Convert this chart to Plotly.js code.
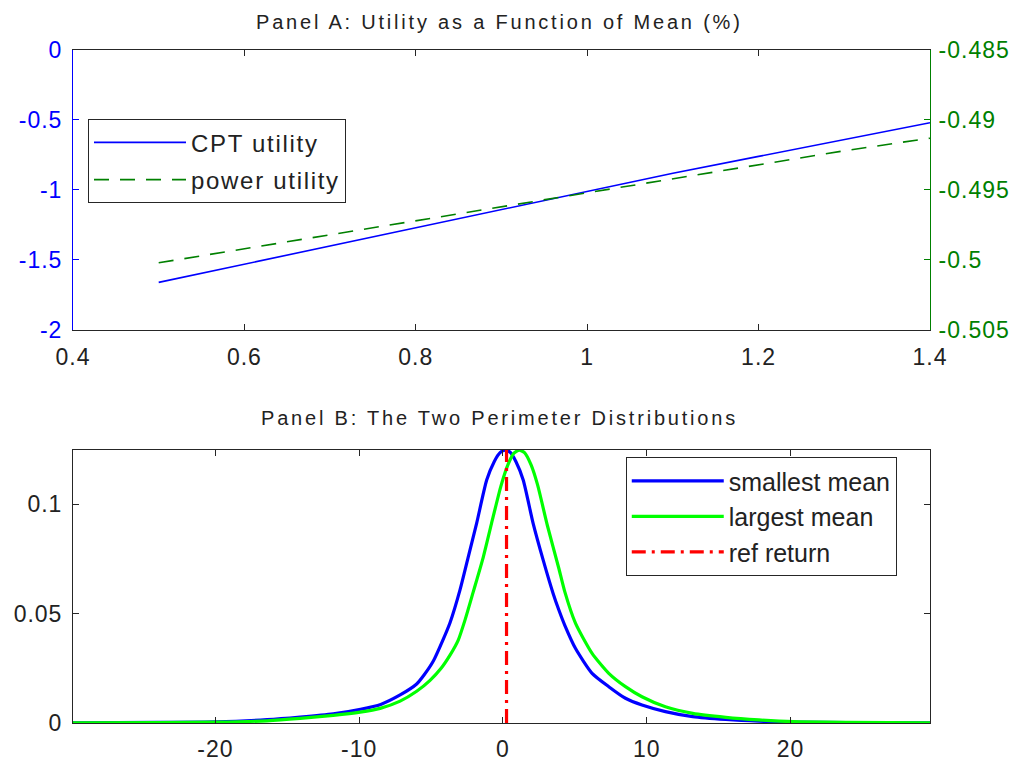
<!DOCTYPE html>
<html><head><meta charset="utf-8">
<script src="https://cdn.plot.ly/plotly-3.0.1.min.js"></script>
<style>
html,body{margin:0;padding:0;background:#fff;}
#chart{width:1016px;height:762px;}
.annotation-text{letter-spacing:2.8px;}
.xtick text,.x2tick text,.ytick text,.y2tick text,.y3tick text{letter-spacing:1px;}
.legendtext{letter-spacing:1.7px;}
</style>
</head><body><div id="chart"></div>
<script>
// ---- Panel A data ----
const meanPct = [0.5,0.6,0.7,0.8,0.9,1.0,1.1,1.2,1.3,1.4];
const cptUtility = [-1.66,-1.53,-1.40,-1.27,-1.14,-1.01,-0.88,-0.76,-0.64,-0.52];
const powerUtility = [-0.5002,-0.4992,-0.4982,-0.4972,-0.4962,-0.4952,-0.4942,-0.4932,-0.4922,-0.4913];

// ---- Panel B data ----
const retSmall = [-29.9,-24,-20,-16.4,-14.1,-11.8,-9.9,-8.5,-7.15,-6.0,-5.5,-4.84,-4.2,-3.68,-2.99,-2.41,-1.83,-1.13,-0.6,-0.2,0.15,0.5,0.9,1.41,2.1,2.8,3.49,3.89,4.31,5.05,6.2,7.36,8.52,9.67,11.3,13.2,15.5,17.8,20,24,29.7];
const densSmall = [0.0001,0.0003,0.0005,0.0015,0.0027,0.0042,0.0063,0.0085,0.0128,0.0178,0.0218,0.0283,0.0375,0.0458,0.0607,0.0759,0.0912,0.111,0.1195,0.1235,0.1247,0.1237,0.1195,0.111,0.0912,0.0744,0.0592,0.0516,0.0445,0.0340,0.0227,0.0166,0.0113,0.0082,0.0052,0.0029,0.0016,0.0008,0.0004,0.0002,0.0001];
const retLarge = [-29.9,-24,-20,-16.4,-14.1,-11.8,-9.93,-8.54,-7.15,-6.0,-5.07,-4.3,-3.68,-3.1,-2.64,-2.06,-1.4,-0.8,-0.15,0.35,0.75,1.13,1.5,1.95,2.4,3.1,3.89,4.3,5.05,6.2,7.36,8.52,9.67,11.3,13.2,15.5,17.8,20.2,24,29.7];
const densLarge = [0.0001,0.0002,0.0004,0.001,0.0021,0.0035,0.005,0.0067,0.0100,0.0145,0.0195,0.025,0.031,0.038,0.047,0.06,0.075,0.091,0.108,0.118,0.1232,0.1247,0.1235,0.118,0.109,0.09,0.0706,0.06,0.0455,0.0318,0.0227,0.0166,0.012,0.0074,0.0044,0.0026,0.0014,0.0006,0.0003,0.0001];
const refReturn = 0.25;
const densTop = 0.1247;

// ---- Tick labels ----
const aXTickVals = [0.4,0.6,0.8,1.0,1.2,1.4];
const aXTickText = ['0.4','0.6','0.8','1','1.2','1.4'];
const aLeftTickVals = [0,-0.5,-1,-1.5,-2];
const aLeftTickText = ['0','-0.5','-1','-1.5','-2'];
const aRightTickVals = [-0.485,-0.49,-0.495,-0.5,-0.505];
const aRightTickText = ['-0.485','-0.49','-0.495','-0.5','-0.505'];
const bXTickVals = [-20,-10,0,10,20];
const bXTickText = ['-20','-10','0','10','20'];
const bYTickVals = [0,0.05,0.1];
const bYTickText = ['0','0.05','0.1'];

const FONT = 'Liberation Sans, Arial, sans-serif';
const BLUE = '#0000ff', DKGREEN = '#008000', GREEN = '#00ff00', RED = '#ff0000', AX = '#262626';

const traces = [
  {x: meanPct, y: cptUtility, xaxis:'x', yaxis:'y', mode:'lines', name:'CPT utility', legendgroup:'a1',
   line:{color:BLUE, width:1.6}, legend:'legend'},
  {x: meanPct, y: powerUtility, xaxis:'x', yaxis:'y2', mode:'lines', name:'power utility', legendgroup:'a2',
   line:{color:DKGREEN, width:1.6, dash:'15px,11px'}, legend:'legend'},
  {x: retSmall, y: densSmall, xaxis:'x2', yaxis:'y3', mode:'lines', name:'smallest mean',
   line:{color:BLUE, width:3.2, shape:'spline', smoothing:0.6}, legend:'legend2'},
  {x: retLarge, y: densLarge, xaxis:'x2', yaxis:'y3', mode:'lines', name:'largest mean',
   line:{color:GREEN, width:3.2, shape:'spline', smoothing:0.6}, legend:'legend2'},
  {x: [refReturn, refReturn], y: [0, densTop], xaxis:'x2', yaxis:'y3', mode:'lines', name:'ref return',
   line:{color:RED, width:3.2, dash:'14px,6px,3px,6px'}, legend:'legend2'}
];

const tickCommon = {ticks:'inside', ticklen:6, tickwidth:1, showgrid:false, zeroline:false,
  showline:true, linewidth:1, tickfont:{family:FONT, size:23, color:'#222'}};

const layout = {
  width:1016, height:762,
  margin:{l:73, r:86, t:50, b:39},
  paper_bgcolor:'#fff', plot_bgcolor:'#fff',
  font:{family:FONT, color:'#222'},
  xaxis: Object.assign({}, tickCommon, {domain:[0,1], anchor:'y', range:[0.4,1.4], linecolor:AX, tickcolor:AX,
    mirror:'ticks', ticklabelstandoff:6, tickmode:'array', tickvals:aXTickVals, ticktext:aXTickText}),
  yaxis: Object.assign({}, tickCommon, {domain:[0.584,1], anchor:'x', range:[-2,0], linecolor:BLUE, tickcolor:BLUE,
    ticklabelstandoff:5,
    tickfont:{family:FONT, size:23, color:BLUE}, tickmode:'array', tickvals:aLeftTickVals, ticktext:aLeftTickText}),
  yaxis2: Object.assign({}, tickCommon, {overlaying:'y', side:'right', anchor:'x', range:[-0.505,-0.485],
    linecolor:DKGREEN, tickcolor:DKGREEN, tickfont:{family:FONT, size:23, color:DKGREEN},
    ticklabelstandoff:3, tickmode:'array', tickvals:aRightTickVals, ticktext:aRightTickText}),
  xaxis2: Object.assign({}, tickCommon, {domain:[0,1], anchor:'y3', range:[-29.9,29.7], linecolor:AX, tickcolor:AX,
    mirror:'ticks', ticklabelstandoff:5, tickmode:'array', tickvals:bXTickVals, ticktext:bXTickText}),
  yaxis3: Object.assign({}, tickCommon, {domain:[0,0.4056], anchor:'x2', range:[0,densTop], linecolor:AX, tickcolor:AX,
    mirror:'ticks', ticklabelstandoff:5, tickmode:'array', tickvals:bYTickVals, ticktext:bYTickText}),
  legend: {x:0.0175, y:0.897, xanchor:'left', yanchor:'top', bordercolor:AX, borderwidth:1, bgcolor:'#fff',
    traceorder:'grouped', tracegroupgap:3,
    font:{family:FONT, size:24, color:'#222'}, itemwidth:92},
  legend2: {x:0.645, y:0.395, xanchor:'left', yanchor:'top', bordercolor:AX, borderwidth:1, bgcolor:'#fff',
    font:{family:FONT, size:25, color:'#222'}, itemwidth:92},
  annotations: [
    {text:'Panel A: Utility as a Function of Mean (%)', xref:'paper', yref:'paper', x:0.498, y:1.0416,
     xanchor:'center', yanchor:'middle', showarrow:false, font:{family:FONT, size:20, color:'#222'}},
    {text:'Panel B: The Two Perimeter Distributions', xref:'paper', yref:'paper', x:0.498, y:0.453,
     xanchor:'center', yanchor:'middle', showarrow:false, font:{family:FONT, size:20, color:'#222'}}
  ]
};

Plotly.newPlot('chart', traces, layout, {displayModeBar:false, staticPlot:true});
</script>
</body></html>
